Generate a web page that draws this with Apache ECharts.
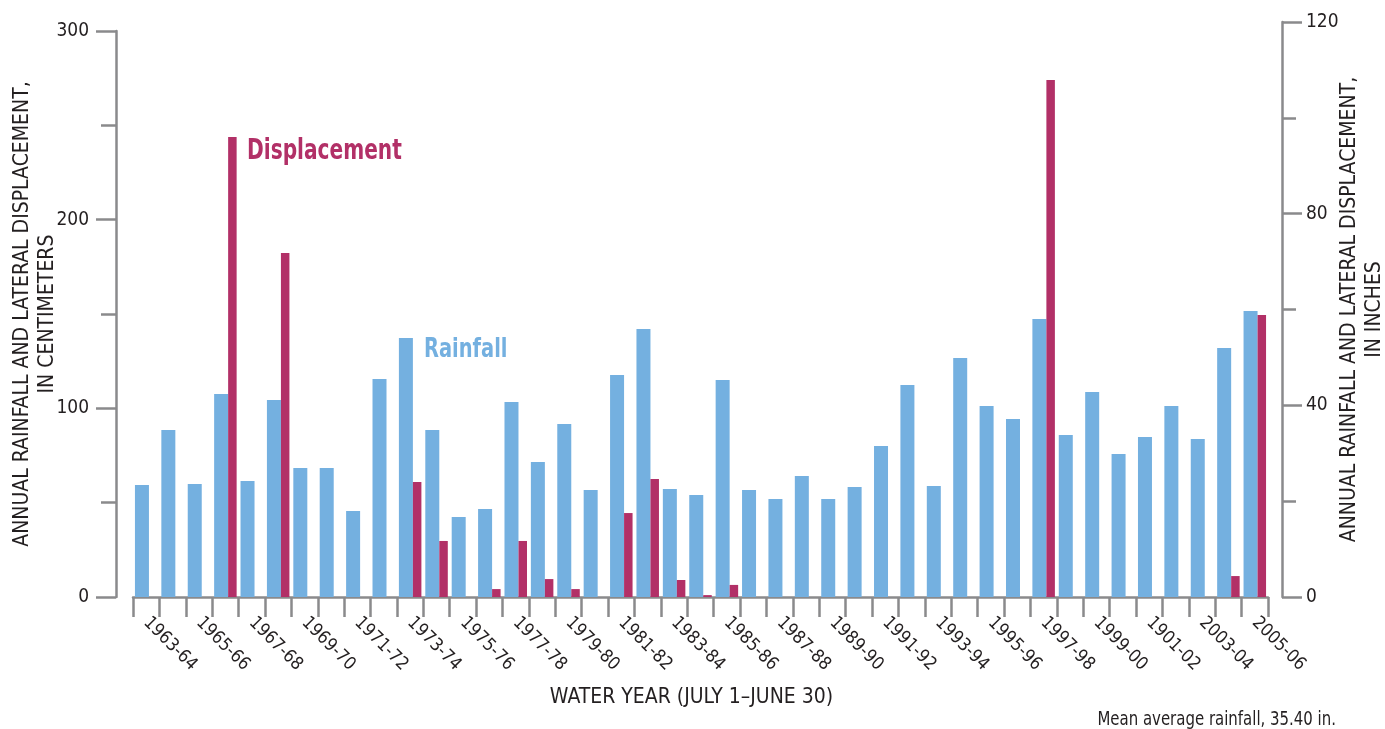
<!DOCTYPE html>
<html>
<head>
<meta charset="utf-8">
<script src="https://cdn.jsdelivr.net/npm/echarts@6/dist/echarts.min.js"></script>
<style>
html, body { margin: 0; padding: 0; background: #fff; }
#chart { width: 1385px; height: 729px; }
</style>
</head>
<body>
<div id="chart"></div>
<script>
'use strict';
// water years (the 2001-02 label is printed as "1901-02" in the original figure)
var waterYears = [
    '1963-64', '1964-65', '1965-66', '1966-67', '1967-68', '1968-69', '1969-70', '1970-71',
    '1971-72', '1972-73', '1973-74', '1974-75', '1975-76', '1976-77', '1977-78', '1978-79',
    '1979-80', '1980-81', '1981-82', '1982-83', '1983-84', '1984-85', '1985-86', '1986-87',
    '1987-88', '1988-89', '1989-90', '1990-91', '1991-92', '1992-93', '1993-94', '1994-95',
    '1995-96', '1996-97', '1997-98', '1998-99', '1999-00', '2000-01', '1901-02', '2002-03',
    '2003-04', '2004-05', '2005-06'
];
// annual rainfall, cm
var rainfallCm = [
    59.4, 88.5, 59.9, 107.6, 61.5, 104.4, 68.4, 68.4, 45.6, 115.5, 137.3, 88.5, 42.4, 46.6,
    103.4, 71.6, 91.7, 56.7, 117.7, 142.0, 57.2, 54.1, 115.0, 56.7, 51.9, 64.1, 51.9, 58.3,
    80.0, 112.4, 58.8, 126.7, 101.2, 94.3, 147.3, 85.9, 108.7, 75.8, 84.8, 101.2, 83.7,
    132.0, 151.6
];
// annual lateral displacement, cm
var displacementCm = [
    0, 0, 0, 243.8, 0, 182.3, 0, 0, 0, 0, 61.0, 29.7, 0, 4.2, 29.7, 9.5, 4.2, 0, 44.5, 62.5,
    9.0, 1.0, 6.4, 0, 0, 0, 0, 0, 0, 0, 0, 0, 0, 0, 274.0, 0, 0, 0, 0, 0, 0, 11.1, 149.5
];
var cmTicks = { min: 0, max: 300, step: 100 };
var inchTicks = { min: 0, max: 120, step: 40 };

var BLUE = '#74b0e0';
var RED = '#b23067';
var AXIS = '#8a8a8c';
var INK = '#231f20';
var FONT = "'Liberation Sans Narrow', 'DejaVu Sans Condensed', 'Arial Narrow', sans-serif";

var chart = echarts.init(document.getElementById('chart'));

var tickStyle = { color: AXIS, width: 2.5 };

var option = {
    backgroundColor: '#fff',
    animation: false,
    grid: [
        { left: 133, right: 117, top: 31, bottom: 132, outerBoundsMode: 'none', containLabel: false },
        // same bottom, taller so 120 in lines up with 304.8 cm
        { left: 133, right: 117, top: 22, bottom: 132, outerBoundsMode: 'none', containLabel: false }
    ],
    xAxis: [{
        type: 'category',
        gridIndex: 0,
        data: waterYears,
        axisLine: { show: true, lineStyle: tickStyle },
        axisTick: { show: true, interval: 0, length: 20, lineStyle: tickStyle },
        axisLabel: {
            interval: 1, rotate: -45, margin: 23,
            color: INK, fontFamily: FONT, fontSize: 18
        },
        name: 'WATER YEAR (JULY 1\u2013JUNE 30)',
        nameLocation: 'middle',
        nameGap: 90,
        nameMoveOverlap: false,
        nameTextStyle: { color: INK, fontFamily: FONT, fontSize: 21, padding: [0, 18, 0, 0] }
    }, {
        type: 'value',
        gridIndex: 1,
        min: 0, max: 1,
        show: false
    }],
    yAxis: [{
        type: 'value',
        gridIndex: 0,
        position: 'left',
        offset: 17,
        min: cmTicks.min, max: cmTicks.max, interval: cmTicks.step,
        axisLine: { show: true, onZero: false, lineStyle: tickStyle },
        axisTick: { show: true, length: 20, lineStyle: tickStyle },
        minorTick: { show: true, splitNumber: 2, length: 15, lineStyle: tickStyle },
        splitLine: { show: false },
        axisLabel: { margin: 27, color: INK, fontFamily: FONT, fontSize: 19 },
        name: 'ANNUAL RAINFALL AND LATERAL DISPLACEMENT,\nIN CENTIMETERS',
        nameLocation: 'middle',
        nameRotate: 90,
        nameGap: 56,
        nameMoveOverlap: false,
        nameTextStyle: { color: INK, fontFamily: FONT, fontSize: 21, lineHeight: 25 }
    }, {
        type: 'value',
        gridIndex: 1,
        position: 'right',
        offset: 14,
        min: inchTicks.min, max: inchTicks.max, interval: inchTicks.step,
        axisLine: { show: true, onZero: false, lineStyle: tickStyle },
        axisTick: { show: true, length: 20, lineStyle: tickStyle },
        minorTick: { show: true, splitNumber: 2, length: 14, lineStyle: tickStyle },
        splitLine: { show: false },
        axisLabel: { margin: 24, color: INK, fontFamily: FONT, fontSize: 19 },
        name: 'ANNUAL RAINFALL AND LATERAL DISPLACEMENT,\nIN INCHES',
        nameLocation: 'middle',
        nameRotate: 90,
        nameGap: 55,
        nameMoveOverlap: false,
        nameTextStyle: { color: INK, fontFamily: FONT, fontSize: 21, lineHeight: 25 }
    }],
    series: [{
        name: 'Rainfall',
        type: 'bar',
        xAxisIndex: 0, yAxisIndex: 0,
        data: rainfallCm,
        barWidth: 14,
        barGap: '0%',
        itemStyle: { color: BLUE }
    }, {
        name: 'Displacement',
        type: 'bar',
        xAxisIndex: 0, yAxisIndex: 0,
        data: displacementCm,
        barWidth: 8.5,
        barGap: '0%',
        itemStyle: { color: RED }
    }],
    graphic: [{
        type: 'text', x: 247, y: 152, scaleX: 0.8,
        style: { text: 'Displacement', fill: RED, font: 'bold 28px ' + FONT, align: 'left', verticalAlign: 'middle' }
    }, {
        type: 'text', x: 424, y: 350, scaleX: 0.8,
        style: { text: 'Rainfall', fill: BLUE, font: 'bold 27px ' + FONT, align: 'left', verticalAlign: 'middle' }
    }, {
        type: 'text', x: 1336, y: 720, scaleX: 0.875,
        style: { text: 'Mean average rainfall, 35.40 in.', fill: INK, font: '19px ' + FONT, align: 'right', verticalAlign: 'middle' }
    }]
};

chart.setOption(option);
window.onresize = function() {
    chart.resize();
};
</script>
</body>
</html>
